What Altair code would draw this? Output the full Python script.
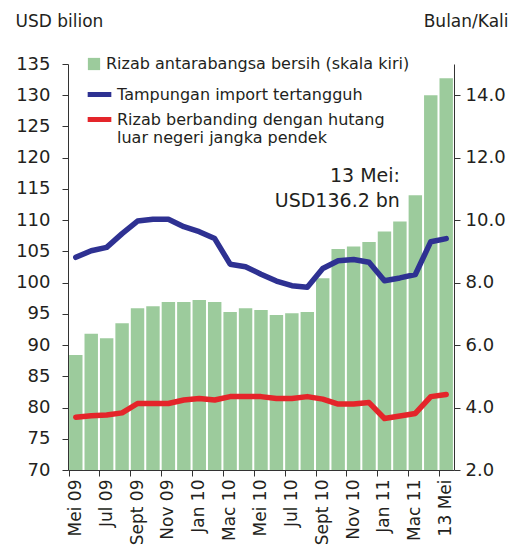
import altair as alt
import pandas as pd

months = ["Mei 09", "Jun 09", "Jul 09", "Ogos 09", "Sept 09", "Okt 09", "Nov 09", "Dis 09",
          "Jan 10", "Feb 10", "Mac 10", "Apr 10", "Mei 10", "Jun 10", "Jul 10", "Ogos 10",
          "Sept 10", "Okt 10", "Nov 10", "Dis 10", "Jan 11", "Feb 11", "Mac 11", "Apr 11", "13 Mei"]
reserves = [88.4, 91.8, 91.1, 93.5, 95.9, 96.2, 96.9, 96.9, 97.2, 96.9, 95.3, 95.9, 95.6,
            94.8, 95.1, 95.3, 100.7, 105.4, 105.8, 106.5, 108.2, 109.8, 114.0, 130.0, 132.7]
import_cover = [8.81, 9.02, 9.13, 9.57, 9.97, 10.03, 10.03, 9.79, 9.63, 9.41, 8.59, 8.51, 8.27,
                8.05, 7.90, 7.85, 8.45, 8.70, 8.74, 8.65, 8.06, 8.15, 8.26, 9.31, 9.41]
reserve_debt = [3.69, 3.74, 3.76, 3.83, 4.13, 4.13, 4.13, 4.24, 4.29, 4.24, 4.35, 4.35, 4.35,
                4.29, 4.29, 4.35, 4.27, 4.11, 4.11, 4.16, 3.65, 3.73, 3.81, 4.35, 4.42]
tick_months = months[::2]
left_ticks = [70, 75, 80, 85, 90, 95, 100, 105, 110, 115, 120, 125, 130, 135]
right_ticks = [2, 4, 6, 8, 10, 12, 14]

bar_name = "Rizab antarabangsa bersih (skala kiri)"
blue_name = "Tampungan import tertangguh"
red_name = "Rizab berbanding dengan hutang luar negeri jangka pendek"

note_month = ["Feb 11", "Feb 11"]
note_text = ["13 Mei:", "USD136.2 bn"]
note_value = [117.0, 113.0]

FONT = "DejaVu Sans"
TXT = "#231f20"

bar_df = pd.DataFrame({"month": months, "value": reserves, "series": bar_name})
line_df = pd.concat([
    pd.DataFrame({"month": months, "value": import_cover, "series": blue_name}),
    pd.DataFrame({"month": months, "value": reserve_debt, "series": red_name}),
])
note_df = pd.DataFrame({"month": note_month, "text": note_text, "value": note_value})

x_enc = alt.X("month:N", sort=months,
              scale=alt.Scale(paddingInner=0.13, paddingOuter=0.07),
              axis=alt.Axis(values=tick_months, bandPosition=0, labelAngle=270,
                            labelFont=FONT, labelFontSize=17, labelColor=TXT,
                            labelPadding=3, tickSize=6, tickColor="#333333",
                            domainColor="#333333", title=None, grid=False))

left_axis = alt.Axis(orient="left", values=left_ticks, labelOverlap=False,
                     labelFont=FONT, labelFontSize=18, labelColor=TXT,
                     labelPadding=12, tickSize=6, tickColor="#333333",
                     domainColor="#333333", grid=False,
                     title="USD bilion", titleAngle=0, titleAlign="left",
                     titleBaseline="alphabetic", titleX=-53, titleY=-38,
                     titleFont=FONT, titleFontSize=17, titleFontWeight="normal",
                     titleColor=TXT)
left_scale = alt.Scale(domain=[70, 135], nice=False, zero=False)

bars = alt.Chart(bar_df).mark_bar().encode(
    x=x_enc,
    y=alt.Y("value:Q", scale=left_scale, axis=left_axis),
    y2=alt.datum(70),
    fill=alt.Fill("series:N", scale=alt.Scale(range=["#9ccb9c"]),
                  legend=alt.Legend(title=None, orient="none", legendX=18, legendY=-8,
                                    symbolType="square", symbolSize=150,
                                    labelFont=FONT, labelFontSize=16, labelColor=TXT,
                                    labelLimit=400, padding=0, symbolStrokeWidth=0)),
)

notes = alt.Chart(note_df).mark_text(align="right", baseline="middle", font=FONT,
                                     fontSize=19, color=TXT).encode(
    x=alt.X("month:N", sort=months),
    y=alt.Y("value:Q", scale=left_scale, axis=left_axis),
    text="text:N",
)

right_y = alt.Y("value:Q",
                scale=alt.Scale(domain=[2, 15], nice=False, zero=False),
                axis=alt.Axis(orient="right", values=right_ticks, format=".1f",
                              labelOverlap=False,
                              labelFont=FONT, labelFontSize=18, labelColor=TXT,
                              labelPadding=5, tickSize=6, tickColor="#333333",
                              domainColor="#333333", grid=False,
                              title="Bulan/Kali", titleAngle=0, titleAlign="right",
                              titleBaseline="alphabetic", titleX=54, titleY=-38,
                              titleFont=FONT, titleFontSize=17, titleFontWeight="normal",
                              titleColor=TXT))

lines = alt.Chart(line_df).mark_line(strokeWidth=5.5, strokeCap="round", strokeJoin="round").encode(
    x=alt.X("month:N", sort=months),
    y=right_y,
    color=alt.Color("series:N", sort=[blue_name, red_name],
                    scale=alt.Scale(domain=[blue_name, red_name], range=["#2e3192", "#e4252a"]),
                    legend=alt.Legend(title=None, orient="none", legendX=17, legendY=16,
                                      symbolType="stroke", symbolSize=560, symbolStrokeWidth=5,
                                      labelFont=FONT, labelFontSize=16, labelColor=TXT,
                                      labelLimit=400, padding=0, rowPadding=-9,
                                      labelBaseline="middle", labelOffset=3,
                                      labelExpr="datum.label == '" + red_name + "' ? ['Rizab berbanding dengan hutang', 'luar negeri jangka pendek'] : datum.label")),
)

chart = alt.layer(alt.layer(bars, notes), lines).resolve_scale(
    y="independent", fill="independent", color="independent"
).properties(
    width=386, height=406,
    padding={"left": 60, "top": 56, "right": 56, "bottom": 90},
    autosize=alt.AutoSizeParams(type="none"),
).configure_view(stroke=None)

chart.save("out.html", embed_options={"renderer": "svg", "actions": False})
